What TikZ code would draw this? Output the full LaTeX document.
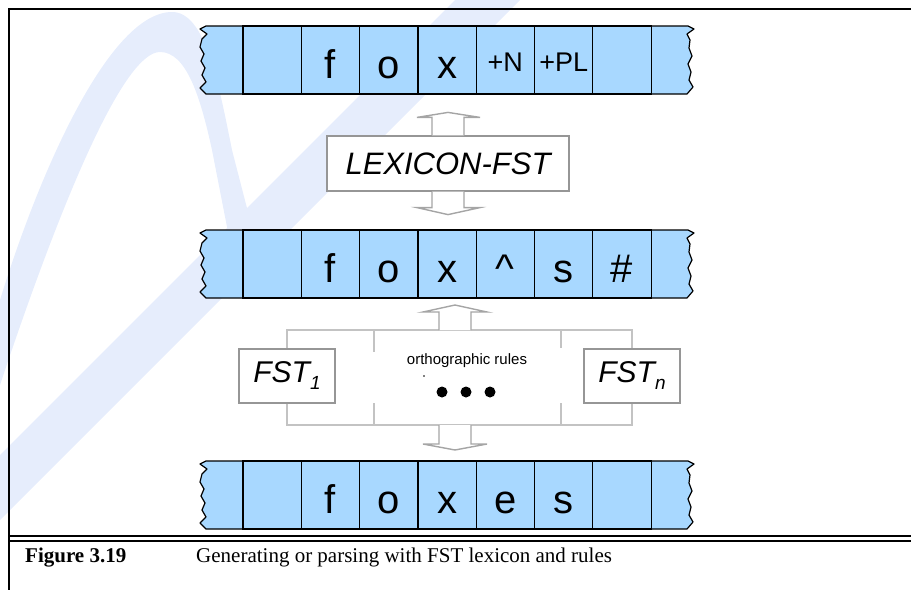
\documentclass[tikz,border=0pt]{standalone}
\usepackage{fontspec}
\setmainfont{Liberation Serif}
\newfontfamily\hv{Liberation Sans}
\definecolor{tapeblue}{RGB}{168,216,255}
\definecolor{arrgray}{RGB}{165,165,165}
\definecolor{boxgray}{RGB}{150,150,150}
\definecolor{brgray}{RGB}{195,195,195}
\definecolor{wm}{RGB}{230,237,252}
\begin{document}
\begin{tikzpicture}[x=1pt,y=-1pt,
  cell/.style={draw=black, line width=1.2pt, fill=tapeblue, minimum width=58.3pt,
    minimum height=68pt, inner sep=0pt, text height=36pt, text depth=0pt,
    font=\hv\fontsize{40}{40}\selectfont},
  smallcell/.style={cell, text height=22pt, font=\hv\fontsize{27}{27}\selectfont},
  tapeedge/.style={draw=black, line width=1.2pt, fill=tapeblue, line join=round},
  blockarrow/.style={draw=arrgray, fill=white, line width=1.4pt, line join=miter},
  fstbox/.style={draw=boxgray, fill=white, line width=1.2pt, inner sep=0pt},
  bracket/.style={draw=brgray, line width=1.3pt},
  frame/.style={draw=black, line width=2.4pt},
  watermark/.style={fill=wm, draw=none}]
\useasboundingbox (0,0) rectangle (911,590);

% faint watermark strokes
\fill[watermark] (0,455) -- (455,0) -- (520,0) -- (0,520) -- cycle;
\fill[watermark] (0,300) .. controls (40,170) and (110,12) .. (172,12)
  .. controls (205,12) and (218,80) .. (232,150) -- (248,212) -- (228,232) -- (212,150)
  .. controls (200,95) and (186,52) .. (160,52)
  .. controls (125,52) and (65,190) .. (0,385) -- cycle;

% frame
\draw[frame] (8,9) -- (911,9);
\draw[frame] (9,8) -- (9,590);
\draw[draw=black, line width=2pt] (9,536) -- (911,536);
\draw[draw=black, line width=2pt] (9,541) -- (911,541);
\fill[white] (10.2,542) rectangle (911,590);

% tapes: edges
\foreach \y in {26,230,461}{
  \begin{scope}[shift={(0,\y)}]
    \draw[tapeedge] (243,0) -- (206,0) -- (200,3) -- (207,8) -- (202,13) -- (200,21)
      -- (204,28) -- (201,35) -- (205,42) -- (202,49) -- (206,56) -- (200,62) -- (206,68) -- (243,68);
    \draw[tapeedge] (651,0) -- (688,0) -- (694,3) -- (687,8) -- (690,14) -- (689,22)
      -- (692,30) -- (688,38) -- (691,46) -- (689,54) -- (693,61) -- (687,68) -- (651,68);
  \end{scope}
}

% top tape
\node[cell] (a1) at (272.15,60) {};
\node[cell] (a2) at (330.45,60) {f};
\node[cell] (a3) at (388.75,60) {o};
\node[cell] (a4) at (447.05,60) {x};
\node[smallcell] (a5) at (505.35,60) {+N};
\node[smallcell] (a6) at (563.65,60) {+PL};
\node[cell] (a7) at (621.95,60) {};

% middle tape
\node[cell] (b1) at (272.15,264) {};
\node[cell] (b2) at (330.45,264) {f};
\node[cell] (b3) at (388.75,264) {o};
\node[cell] (b4) at (447.05,264) {x};
\node[cell] (b5) at (505.35,264) {\^{}};
\node[cell] (b6) at (563.65,264) {s};
\node[cell] (b7) at (621.95,264) {\#};

% bottom tape
\node[cell] (c1) at (272.15,495) {};
\node[cell] (c2) at (330.45,495) {f};
\node[cell] (c3) at (388.75,495) {o};
\node[cell] (c4) at (447.05,495) {x};
\node[cell] (c5) at (505.35,495) {e};
\node[cell] (c6) at (563.65,495) {s};
\node[cell] (c7) at (621.95,495) {};

% lexicon
\node[fstbox, minimum width=242pt, minimum height=55pt,
  font=\hv\itshape\fontsize{31}{31}\selectfont] (lex) at (448,163.5) {LEXICON-FST};
\draw[blockarrow] ([xshift=-16pt]lex.north) -- ++(0,-18) -- ++(-15,0) -- ++(31,-5)
  -- ++(32,5) -- ++(-16,0) -- ++(0,18);
\draw[blockarrow] ([xshift=-16pt]lex.south) -- ++(0,16) -- ++(-15,0) -- ++(31,7)
  -- ++(32,-7) -- ++(-16,0) -- ++(0,-16);

% FST boxes
\node[fstbox, minimum width=96pt, minimum height=54pt,
  font=\hv\itshape\fontsize{30}{30}\selectfont] (f1) at (287,376)
  {FST\raisebox{-7pt}{\fontsize{19}{19}\selectfont 1}};
\node[fstbox, minimum width=96pt, minimum height=54pt,
  font=\hv\itshape\fontsize{30}{30}\selectfont] (fn) at (632,376)
  {FST\raisebox{-7pt}{\fontsize{19}{19}\selectfont n}};

% bracket
\coordinate (tl) at (287,330);
\coordinate (tr) at (632,330);
\coordinate (bl) at (287,425);
\coordinate (br) at (632,425);
\coordinate (top) at (455,330);
\coordinate (bot) at (455,425);
\draw[bracket] (f1.north) -- (tl) -- (tr) -- (fn.north);
\draw[bracket] (f1.south) -- (bl) -- (br) -- (fn.south);
\draw[bracket] (374,330) -- (374,352);
\draw[bracket] (561,330) -- (561,348);
\draw[bracket] (374,403) -- (374,425);
\draw[bracket] (561,403) -- (561,425);

\draw[blockarrow] ([xshift=-16pt]top) -- ++(0,-18) -- ++(-16,0) -- ++(32,-7)
  -- ++(32,7) -- ++(-16,0) -- ++(0,18);
\draw[blockarrow] ([xshift=-16pt]bot) -- ++(0,19) -- ++(-16,0) -- ++(32,6)
  -- ++(32,-6) -- ++(-16,0) -- ++(0,-19);

\node[font=\hv\fontsize{15}{15}\selectfont] (ortho) at (467,361) {orthographic rules};
\fill (424,376) circle (0.9);
\fill (442,392) circle (5.5);
\fill (466,392) circle (5.5);
\fill (490,392) circle (5.5);

% caption
\node[anchor=base west, inner sep=0pt, font=\fontsize{21}{25}\selectfont\bfseries] (fig) at (25,562) {Figure 3.19};
\node[anchor=base west, inner sep=0pt, font=\fontsize{21}{25}\selectfont] (cap) at (196,562) {Generating or parsing with FST lexicon and rules};
\end{tikzpicture}
\end{document}
